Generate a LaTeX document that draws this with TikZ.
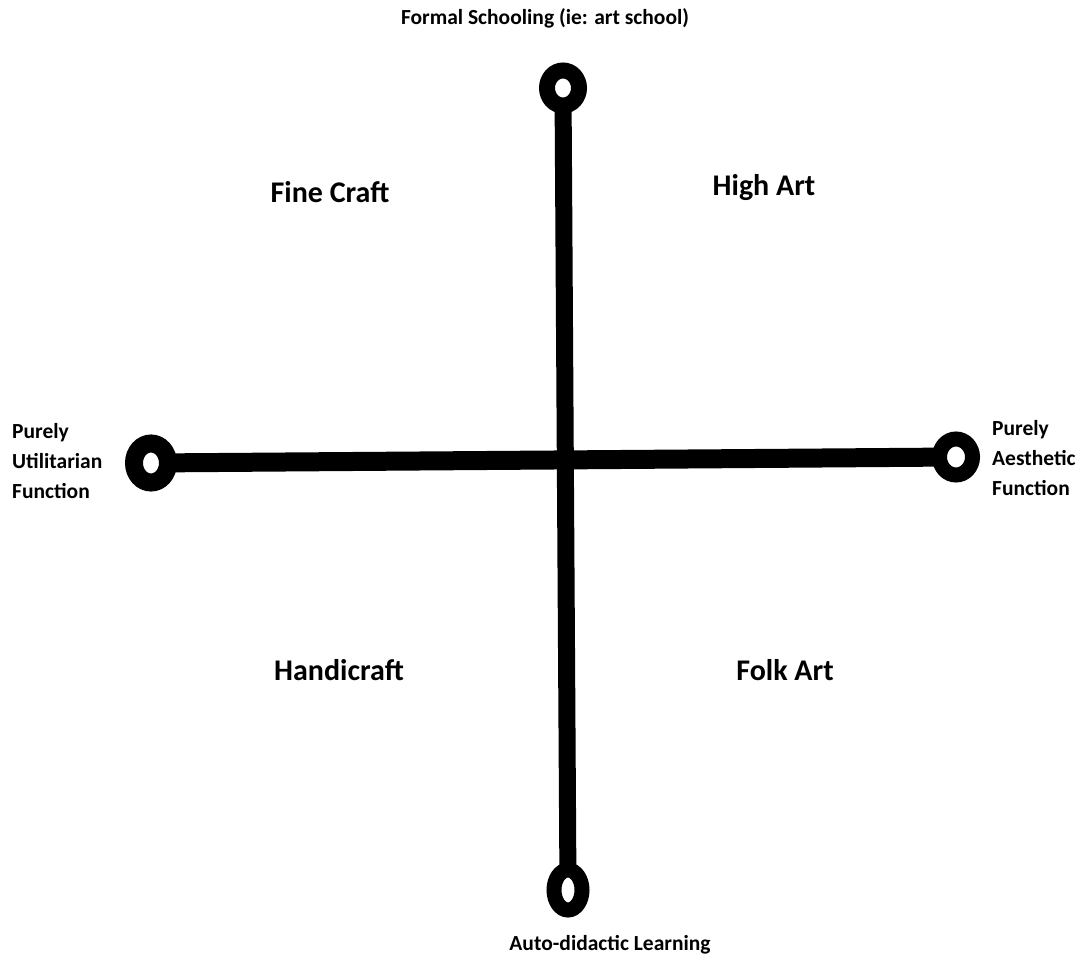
\documentclass[tikz,border=0pt]{standalone}
\usepackage{fontspec}
\setmainfont{Carlito}
\usetikzlibrary{shapes.geometric}
\tikzset{
  ring/.style={ellipse, draw=black, fill=white, inner sep=0pt, outer sep=0pt},
  axis/.style={line width=18pt, black},
  quad/.style={font=\bfseries\fontsize{30}{33}\selectfont},
  small/.style={font=\bfseries\fontsize{21.5}{30}\selectfont, align=left, inner sep=0pt},
}
\begin{document}
\begin{tikzpicture}[x=1pt, y=-1pt]
\useasboundingbox (0,0) rectangle (1083,965);
% endpoints
\node[ring, line width=16pt, minimum width=32pt, minimum height=35pt] (T) at (563,88) {};
\node[ring, line width=15pt, minimum width=28pt, minimum height=40pt] (B) at (568,890) {};
\node[ring, line width=18pt, minimum width=34pt, minimum height=39pt] (L) at (151,463) {};
\node[ring, line width=15pt, minimum width=33pt, minimum height=36pt] (R) at (956,457) {};
% axes
\draw[axis, line width=17pt] (T) -- (B);
\draw[axis, line width=19pt] (L) -- (R);
% quadrant labels
\node[quad] (fc) at (330,192) {Fine Craft};
\node[quad] (ha) at (764,188) {High Art};
\node[quad] (hc) at (339,670) {Handicraft};
\node[quad] (fa) at (785,670) {Folk Art};
% axis labels
\node[small] (tl) at (545,18) {Formal Schooling (ie: art school)};
\node[small] (bl) at (610,945) {Auto-didactic Learning};
\node[small, anchor=west] (ll) at (12,461) {Purely\\Utilitarian\\Function};
\node[small, anchor=west] (rl) at (992,458) {Purely\\Aesthetic\\Function};
\end{tikzpicture}
\end{document}
